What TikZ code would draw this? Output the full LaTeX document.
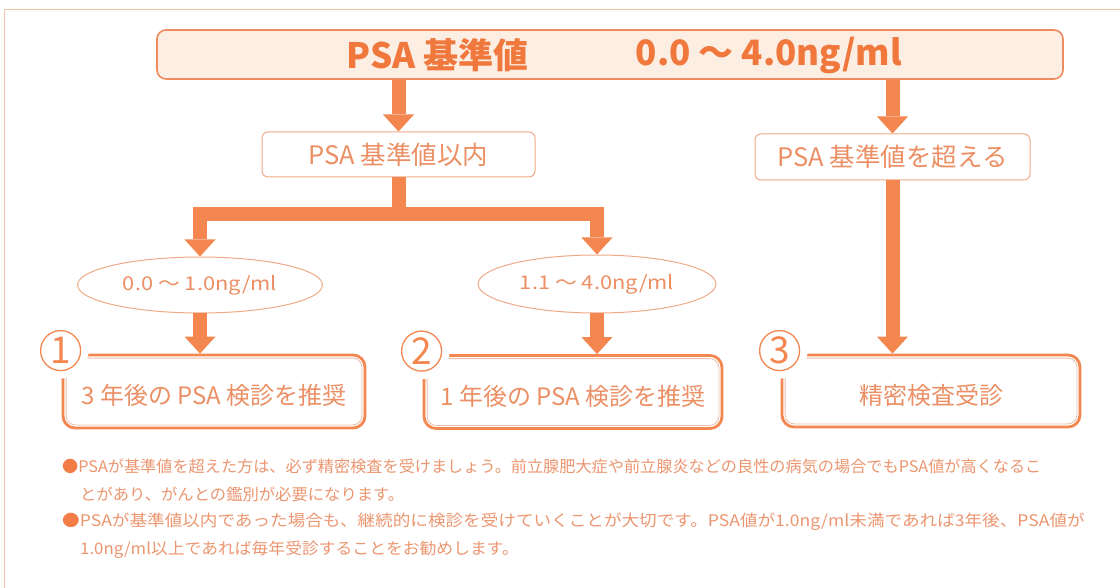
\documentclass[tikz,border=0pt]{standalone}
\usepackage{fontspec}
\usepackage{graphicx}
\setmainfont{Noto Sans CJK JP}
\usetikzlibrary{arrows.meta,shapes.geometric,calc}
\definecolor{arrowc}{RGB}{244,135,80}
\definecolor{boxtext}{RGB}{236,143,100}
\definecolor{boxline}{RGB}{240,170,135}
\definecolor{topfill}{RGB}{253,238,228}
\definecolor{topline}{RGB}{238,140,95}
\definecolor{toptext}{RGB}{240,120,60}
\definecolor{foottext}{RGB}{236,150,112}
\definecolor{bulletc}{RGB}{242,125,70}
\definecolor{framec}{RGB}{245,195,170}
\definecolor{innerc}{RGB}{235,190,170}
\newcommand{\hstretch}[2]{\scalebox{#1}[1]{#2}}
\begin{document}
\begin{tikzpicture}[x=1pt,y=-1pt,
  fat/.style={draw=arrowc, line width=14pt},
  fatarrow/.style={fat, -{Triangle[width=31pt,length=17pt,line width=0pt]}},
  fatboth/.style={fat, {Triangle[width=31pt,length=17pt,line width=0pt]}-{Triangle[width=31pt,length=17pt,line width=0pt]}},
  midbox/.style={draw=boxline, line width=1pt, rounded corners=6pt, text=boxtext, font=\fontsize{25.5}{27}\selectfont, inner sep=0pt},
  rangebox/.style={ellipse, draw=boxline, line width=1pt, text=boxtext, font=\fontsize{19}{21}\selectfont, inner sep=0pt},
  resbox/.style={draw=arrowc, line width=2.8pt, rounded corners=12pt, text=boxtext, font=\fontsize{24}{26}\selectfont, inner sep=0pt},
  restext/.style={text=boxtext, font=\fontsize{24}{26}\selectfont, inner sep=0pt},
  innerbox/.style={draw=innerc, line width=0.8pt, rounded corners=9pt},
  mask/.style={circle, fill=white, minimum size=56pt, inner sep=0pt},
  numc/.style={circle, draw=arrowc, line width=1.3pt, minimum size=40pt, inner sep=0pt, text=arrowc, font=\fontsize{37}{37}\selectfont},
  foot/.style={anchor=west, text=foottext, font=\fontsize{16}{18}\selectfont, inner sep=0pt},
  toptxt/.style={text=toptext, font=\bfseries\fontsize{35}{37}\selectfont, inner sep=0pt}
]
\useasboundingbox (0,0) rectangle (1120,588);
\fill[white] (0,0) rectangle (1120,588);
% outer frame
\draw[framec, line width=1pt] (4,588) -- (4,10) -- (1120,10);

% top box
\node[draw=topline, fill=topfill, line width=1.6pt, rounded corners=9pt, minimum width=906pt, minimum height=49pt] (top) at (610,54.5) {};
\node[toptxt] (t1) at (437.5,55) {PSA 基準値};
\node[toptxt] (t2) at (769,55) {0.0 ～ 4.0ng/ml};

% middle boxes
\node[midbox, minimum width=273pt, minimum height=45pt] (in1) at (398.5,154.5) {PSA 基準値以内};
\node[midbox, minimum width=275pt, minimum height=46pt] (over) at (892.5,157) {PSA 基準値を超える};

% ranges
\node[rangebox, minimum width=245pt, minimum height=56pt] (e1) at (200,285) {\hstretch{1.15}{0.0 ～ 1.0ng/ml}};
\node[rangebox, minimum width=238pt, minimum height=58pt] (e2) at (597,284) {\hstretch{1.15}{1.1 ～ 4.0ng/ml}};

% result boxes
\node[resbox, minimum width=302pt, minimum height=73pt] (r1) at (214,391.5) {};
\node[resbox, minimum width=298pt, minimum height=73pt] (r2) at (573,392) {};
\node[resbox, minimum width=298pt, minimum height=72pt] (r3) at (931,391) {};
\node[restext] (r1t) at ([yshift=-4pt]r1.center) {3 年後の PSA 検診を推奨};
\node[restext] (r2t) at ([yshift=-4pt]r2.center) {1 年後の PSA 検診を推奨};
\node[restext] (r3t) at ([yshift=-4pt]r3.center) {精密検査受診};
\foreach \r in {r1,r2,r3}{
  \draw[innerbox] ([shift={(4.5,4.5)}]\r.north west) rectangle ([shift={(-4.5,-4.5)}]\r.south east);
}
\node[mask] (m1) at ([shift={(-1,-3)}]r1.north west) {};
\node[mask] (m2) at ([shift={(-1,-3)}]r2.north west) {};
\node[mask] (m3) at ([shift={(-1,-3)}]r3.north west) {};
\node[numc] (n1) at (m1) {1};
\node[numc] (n2) at (m2) {2};
\node[numc] (n3) at (m3) {3};

% connectors
\coordinate (j) at (in1.south |- 0,214);
\draw[fatarrow] (top.south -| in1.north) -- (in1.north);
\draw[fatarrow] (top.south -| over.north) -- (over.north);
\draw[fat] (in1.south) -- (j);
\draw[fatboth] (e1.north) |- (j) -| (e2.north);
\draw[fatarrow] (e1.south) -- (e1.south |- r1.north);
\draw[fatarrow] (e2.south) -- (e2.south |- r2.north);
\draw[fatarrow] (over.south) -- (over.south |- r3.north);

% footnotes
\node[foot] (f1) at (62,466) {\hstretch{1.01}{\textcolor{bulletc}{●}PSAが基準値を超えた方は、必ず精密検査を受けましょう。前立腺肥大症や前立腺炎などの良性の病気の場合でもPSA値が高くなるこ}};
\node[foot] (f2) at (80,494) {\hstretch{1.02}{とがあり、がんとの鑑別が必要になります。}};
\node[foot] (f3) at (62,522) {\hstretch{1.10}{\textcolor{bulletc}{●}PSAが基準値以内であった場合も、継続的に検診を受けていくことが大切です。PSA値が1.0ng/ml未満であれば3年後、PSA値が}};
\node[foot] (f4) at (80,550) {\hstretch{1.05}{1.0ng/ml以上であれば毎年受診することをお勧めします。}};
\end{tikzpicture}
\end{document}
